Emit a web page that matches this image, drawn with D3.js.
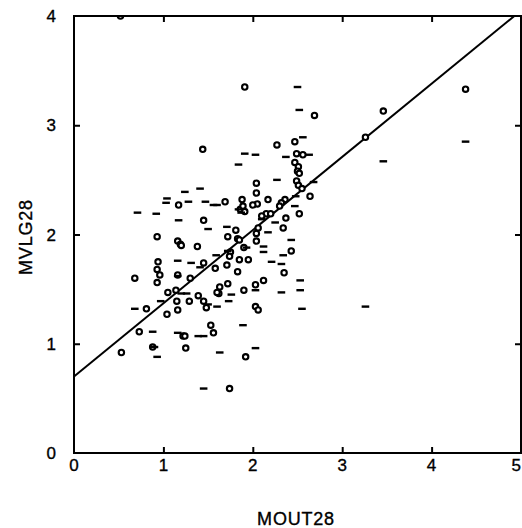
<!DOCTYPE html>
<html>
<head>
<meta charset="utf-8">
<script src="https://cdn.jsdelivr.net/npm/d3@7"></script>
<style>
  html, body { margin: 0; padding: 0; background: #fff; }
  svg { display: block; }
  text { font-family: "Liberation Sans", Arial, sans-serif; fill: #000; stroke: #000; stroke-width: 0.35; }
</style>
</head>
<body>
<svg id="chart" width="522" height="528"></svg>
<script>
// Axis ticks
const xTicks = [0, 1, 2, 3, 4, 5];
const yTicks = [0, 1, 2, 3, 4];

// Fitted line: MVLG28 = intercept + slope * MOUT28
const fitIntercept = 0.70;
const fitSlope = 0.67;

// Observations drawn as open circles
const circleX = [1.91,4.38,3.46,2.69,3.26,1.44,2.27,2.47,2.49,2.56,2.47,2.51,2.50,2.52,2.49,2.51,2.55,2.64,2.52,2.37,2.34,2.43,2.36,2.32,2.30,2.17,2.15,2.20,2.10,2.04,2.04,2.05,2.00,1.88,1.86,1.89,1.91,2.04,2.06,2.04,1.83,1.85,1.81,1.72,1.90,1.75,1.74,1.71,1.85,1.95,1.83,1.72,1.63,1.62,1.60,1.90,2.03,2.12,2.03,2.06,1.92,1.74,1.58,1.45,1.45,1.38,1.69,1.17,1.16,1.19,1.20,0.93,0.94,0.93,0.96,0.93,0.68,1.05,1.14,1.15,1.16,1.29,1.30,1.16,1.39,1.45,1.48,1.04,0.81,0.73,0.53,0.88,1.22,1.24,1.25,1.53,1.56,2.35,0.52];
const circleY = [3.35,3.33,3.13,3.09,2.89,2.78,2.82,2.85,2.74,2.73,2.66,2.62,2.58,2.56,2.49,2.45,2.42,2.35,2.19,2.15,2.06,1.85,2.32,2.29,2.26,2.32,2.19,2.19,2.17,2.38,2.47,2.28,2.27,2.32,2.23,2.26,2.21,2.01,2.06,1.94,1.96,1.95,2.04,1.98,1.88,1.84,1.80,1.72,1.77,1.77,1.66,1.55,1.52,1.46,1.47,1.49,1.54,1.58,1.34,1.31,0.88,0.59,1.69,1.74,2.13,1.89,2.30,2.27,1.94,1.91,1.90,1.98,1.75,1.68,1.63,1.56,1.60,1.47,1.49,1.39,1.31,1.39,1.60,1.63,1.44,1.39,1.33,1.27,1.32,1.11,0.92,0.97,1.07,1.07,0.96,1.17,1.10,1.65,4.00];

// Observations drawn as short dashes
const dashX = [2.50,2.52,2.56,1.91,2.03,1.84,1.41,1.24,1.04,1.03,1.28,1.47,1.56,1.60,0.71,0.92,1.17,1.50,1.71,1.84,1.87,2.10,2.27,2.37,2.63,2.68,2.48,2.47,2.43,2.12,2.12,2.17,2.21,2.34,2.32,2.32,2.53,2.53,2.55,3.26,3.46,4.38,2.03,1.89,1.63,1.45,1.39,1.45,1.16,0.93,0.88,0.68,0.97,1.16,1.31,1.41,1.16,1.50,1.60,1.73,1.76,1.20,1.26,1.59,1.72,1.93,2.03,2.25,0.90];
const dashY = [3.35,3.14,2.89,2.74,2.73,2.64,2.42,2.39,2.33,2.29,2.30,2.30,2.27,2.27,2.20,2.19,2.13,2.05,2.07,2.23,2.20,2.14,2.50,2.71,2.73,2.48,2.35,2.26,1.95,1.89,1.84,2.02,1.75,1.81,1.73,1.47,1.58,1.49,1.32,1.34,2.67,2.85,0.96,1.17,0.92,0.59,1.07,1.07,1.10,0.88,1.11,1.32,1.39,1.76,1.74,1.70,1.62,1.36,1.34,1.39,1.45,1.46,1.46,1.81,1.85,1.88,1.49,2.11,0.97];

const margin = { left: 74, right: 1, top: 16, bottom: 75 };
const W = 522, H = 528;
const svg = d3.select("#chart");

const x = d3.scaleLinear().domain([0, 5]).range([margin.left, W - margin.right]);
const y = d3.scaleLinear().domain([0, 4]).range([H - margin.bottom, margin.top]);

const plot = svg.append("g");

// Clip to plot area
svg.append("defs").append("clipPath").attr("id", "clip")
  .append("rect")
  .attr("x", x(0)).attr("y", y(4))
  .attr("width", x(5) - x(0)).attr("height", y(0) - y(4));

const marks = plot.append("g").attr("clip-path", "url(#clip)");

// Regression line
marks.append("line")
  .attr("x1", x(0)).attr("y1", y(fitIntercept))
  .attr("x2", x(5)).attr("y2", y(fitIntercept + fitSlope * 5))
  .attr("stroke", "#000").attr("stroke-width", 2);

// Circles
marks.selectAll("circle.obs")
  .data(d3.range(circleX.length))
  .join("circle")
  .attr("class", "obs")
  .attr("cx", i => x(circleX[i]))
  .attr("cy", i => y(circleY[i]))
  .attr("r", 2.7)
  .attr("fill", "#fff")
  .attr("stroke", "#000")
  .attr("stroke-width", 2.1);

// Dashes
marks.selectAll("line.dash")
  .data(d3.range(dashX.length))
  .join("line")
  .attr("class", "dash")
  .attr("x1", i => x(dashX[i]) - 3.8)
  .attr("x2", i => x(dashX[i]) + 3.8)
  .attr("y1", i => y(dashY[i]))
  .attr("y2", i => y(dashY[i]))
  .attr("stroke", "#000")
  .attr("stroke-width", 2.4);

// Frame
plot.append("rect")
  .attr("x", x(0)).attr("y", y(4))
  .attr("width", x(5) - x(0)).attr("height", y(0) - y(4))
  .attr("fill", "none").attr("stroke", "#000").attr("stroke-width", 2);

// Inward ticks on all four sides
const tickLen = 6;
const innerX = xTicks.filter(v => v > 0 && v < 5);
const innerY = yTicks.filter(v => v > 0 && v < 4);

const bottomAxis = d3.axisBottom(x).tickValues(innerX).tickSize(-tickLen).tickFormat("");
const topAxis = d3.axisTop(x).tickValues(innerX).tickSize(-tickLen).tickFormat("");
const leftAxis = d3.axisLeft(y).tickValues(innerY).tickSize(-tickLen).tickFormat("");
const rightAxis = d3.axisRight(y).tickValues(innerY).tickSize(-tickLen).tickFormat("");

function styleAxis(g) {
  g.select(".domain").remove();
  g.selectAll(".tick line").attr("stroke", "#000").attr("stroke-width", 2);
}
plot.append("g").attr("transform", `translate(0,${y(0)})`).call(bottomAxis).call(styleAxis);
plot.append("g").attr("transform", `translate(0,${y(4)})`).call(topAxis).call(styleAxis);
plot.append("g").attr("transform", `translate(${x(0)},0)`).call(leftAxis).call(styleAxis);
plot.append("g").attr("transform", `translate(${x(5)},0)`).call(rightAxis).call(styleAxis);

// Tick labels (the last one is kept inside the page edge)
svg.append("g").selectAll("text")
  .data(xTicks)
  .join("text")
  .attr("x", d => d === 5 ? W - 1 : x(d))
  .attr("y", y(0) + 18)
  .attr("text-anchor", d => d === 5 ? "end" : "middle")
  .attr("font-size", 17)
  .text(d => d);

svg.append("g").selectAll("text")
  .data(yTicks)
  .join("text")
  .attr("x", x(0) - 18)
  .attr("y", d => y(d) + 6)
  .attr("text-anchor", "end")
  .attr("font-size", 17)
  .text(d => d);

// Axis titles
svg.append("text")
  .attr("x", 296).attr("y", 525)
  .attr("text-anchor", "middle")
  .attr("font-size", 18)
  .attr("letter-spacing", 0.8)
  .text("MOUT28");

svg.append("text")
  .attr("transform", "translate(32,237) rotate(-90)")
  .attr("text-anchor", "middle")
  .attr("font-size", 18)
  .attr("letter-spacing", 0.8)
  .text("MVLG28");
</script>
</body>
</html>
